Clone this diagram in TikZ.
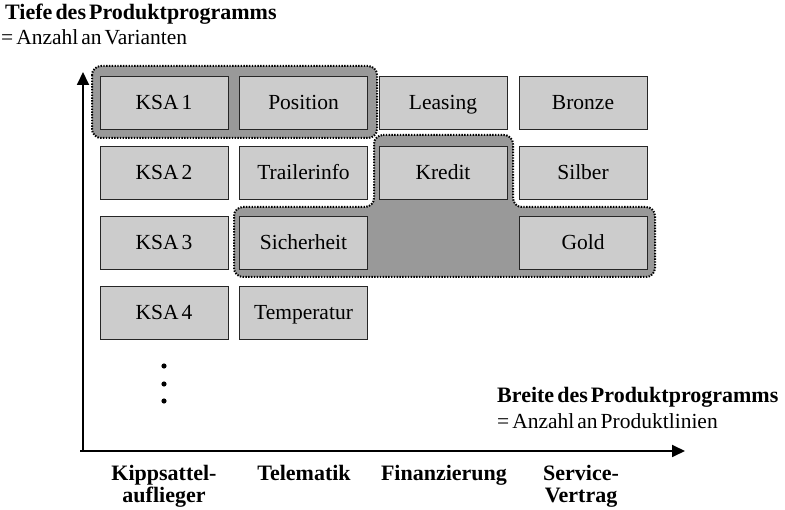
\documentclass[tikz,border=0pt]{standalone}
\usepackage{fontspec}
\setmainfont{Liberation Serif}
\usetikzlibrary{arrows.meta}
\newcommand{\tightsp}{\spaceskip=0.14em plus 0.05em\relax}
\begin{document}
\begin{tikzpicture}[x=1pt,y=-1pt,
  item/.style={draw=black!85,line width=0.9pt,fill=black!20,minimum width=128pt,minimum height=53pt,inner sep=0pt,text height=15pt,text depth=0pt,font=\fontsize{21.5}{24}\selectfont\tightsp},
  grp/.style={draw=black,fill=black!40,line width=2pt,dash pattern=on 1.4pt off 1.4pt,rounded corners=9pt},
  axis/.style={line width=1.8pt,-{Triangle[length=13pt,width=12pt]}},
  lbl/.style={font=\fontsize{22}{22.5}\selectfont\bfseries,align=center,inner sep=0pt},
  txt/.style={font=\fontsize{21.5}{24}\selectfont\tightsp,inner sep=0pt,anchor=west},
  bold/.style={font=\fontsize{22}{24}\selectfont\bfseries\tightsp,inner sep=0pt,anchor=west}]
\useasboundingbox (0,0) rectangle (785,510);
% groups
\draw[grp] (92,66) rectangle (377,138);
\draw[grp] (374,135) -- (513,135) -- (513,207) -- (655,207) -- (655,277) -- (234,277) -- (234,207) -- (374,207) -- cycle;
% boxes
\node[item] (ksa1) at (164,102.5) {KSA 1};
\node[item] (pos) at (303.5,102.5) {Position};
\node[item] (lea) at (443,102.5) {Leasing};
\node[item] (bro) at (583,102.5) {Bronze};
\node[item] (ksa2) at (164,172.5) {KSA 2};
\node[item] (tra) at (303.5,172.5) {Trailerinfo};
\node[item] (kre) at (443,172.5) {Kredit};
\node[item] (sil) at (583,172.5) {Silber};
\node[item] (ksa3) at (164,242.5) {KSA 3};
\node[item] (sic) at (303.5,242.5) {Sicherheit};
\node[item] (gol) at (583,242.5) {Gold};
\node[item] (ksa4) at (164,312.5) {KSA 4};
\node[item] (tem) at (303.5,312.5) {Temperatur};
% dots
\fill (164,366) circle (2.6pt) (164,384) circle (2.6pt) (164,401) circle (2.6pt);
% axes
\coordinate (o) at (83,451);
\coordinate (ytip) at (83,72);
\coordinate (xo) at (80,451);
\coordinate (xtip) at (685,451);
\draw[axis] (o) -- (ytip);
\draw[axis] (xo) -- (xtip);
% texts
\node[bold] (tt) at (5,14) {Tiefe des Produktprogramms};
\node[txt] (ts) at (1,37) {= Anzahl an Varianten};
\node[bold] (bt) at (497,397) {Breite des Produktprogramms};
\node[txt] (bs) at (497,421) {= Anzahl an Produktlinien};
\node[lbl,anchor=north] (l1) at (164,465) {Kippsattel-\\auflieger};
\node[lbl,anchor=north] (l2) at (304,465) {Telematik};
\node[lbl,anchor=north] (l3) at (444,465) {Finanzierung};
\node[lbl,anchor=north] (l4) at (581,465) {Service-\\Vertrag};
\end{tikzpicture}
\end{document}
